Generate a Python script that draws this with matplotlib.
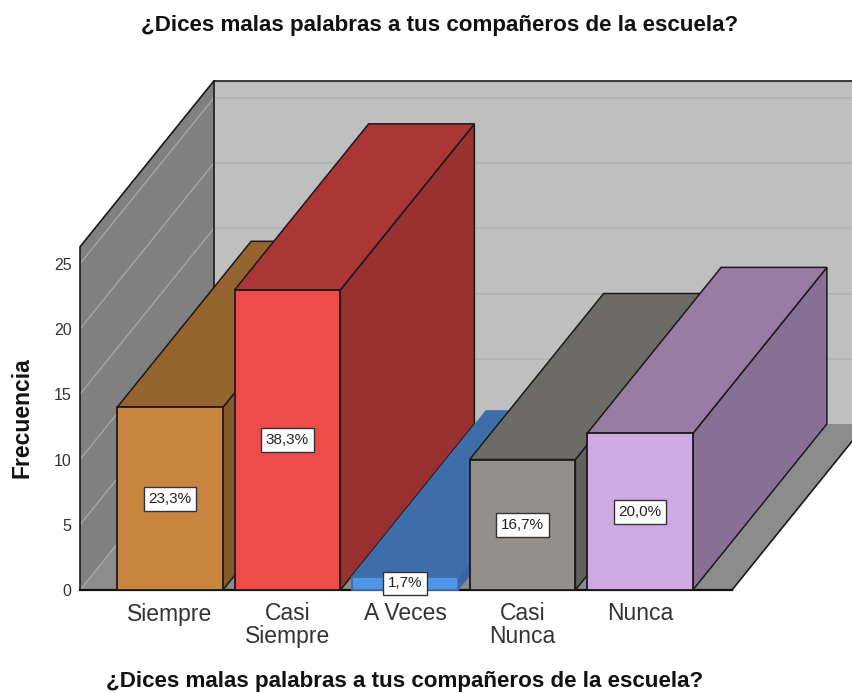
import matplotlib
matplotlib.use("Agg")
import matplotlib.pyplot as plt
from matplotlib.patches import Polygon

plt.rcParams['font.family'] = ['Liberation Sans', 'DejaVu Sans']

# data
categories = ["Siempre", "Casi\nSiempre", "A Veces", "Casi\nNunca", "Nunca"]
counts = [14, 23, 1, 10, 12]
percent_labels = ["23,3%", "38,3%", "1,7%", "16,7%", "20,0%"]
y_ticks = [0, 5, 10, 15, 20, 25]

# colours of each bar: front, top, side, outline
front_colors = ["#c9853f", "#ee4b4b", "#5196e6", "#938f8c", "#cfa9e4"]
top_colors = ["#96642f", "#aa3636", "#3d6ea9", "#6d6b68", "#997ca4"]
side_colors = ["#845a2c", "#993131", "#3b659e", "#63605d", "#886f96"]
edge_colors = ["#1a1a1a", "#1a1a1a", "#3f6faa", "#1a1a1a", "#1a1a1a"]

title = "¿Dices malas palabras a tus compañeros de la escuela?"

W, H = 853, 693
fig = plt.figure(figsize=(W / 100, H / 100), dpi=100)

# axes runs from the front left floor corner to the top right of the image
ax = fig.add_axes([80 / W, (H - 590) / H, (W - 80) / W, 590 / H])
ax.set_xlim((80 - 170) / 117.5, (W - 170) / 117.5)
ax.set_ylim(0, 590 / 13.05)

# fake 3d depth in data units
dx = 134 / 117.5
dy = 166 / 13.05
bar_w = 0.45
left = (80 - 170) / 117.5
right = (732 - 170) / 117.5
wall_top = 26.3
far_right = right + dx


def poly(pts, color, edge="none", lw=0, z=1):
    ax.add_patch(Polygon(pts, closed=True, facecolor=color, edgecolor=edge,
                         linewidth=lw, zorder=z, clip_on=False, joinstyle="miter"))


# back wall, floor and left wall
poly([(left + dx, dy), (far_right, dy), (far_right, dy + wall_top), (left + dx, dy + wall_top)], "#bfbfbf")
poly([(left, 0), (right, 0), (far_right, dy), (left + dx, dy)], "#8c8c8c")
poly([(left, 0), (left + dx, dy), (left + dx, dy + wall_top), (left, wall_top)], "#808080")

# gridlines on both walls
for t in y_ticks:
    if t > 0:
        ax.plot([left + dx, far_right], [dy + t, dy + t], color="#b3b3b3", lw=1.3, zorder=1.1, clip_on=False)
    ax.plot([left, left + dx], [t, dy + t], color="#a6a6a6", lw=1.0, zorder=1.1, clip_on=False)

# frame lines
ax.plot([left + dx, far_right], [dy + wall_top, dy + wall_top], color="#1a1a1a", lw=1.2, zorder=1.2, clip_on=False)
ax.plot([left, left, left + dx, left + dx], [0, wall_top, dy + wall_top, dy], color="#1a1a1a", lw=1.2, zorder=1.2, clip_on=False)
ax.plot([right, far_right], [0, dy], color="#1a1a1a", lw=1.2, zorder=1.2, clip_on=False)
ax.plot([left, right], [0, 0], color="#111111", lw=1.6, zorder=1.2, clip_on=False)

# bars, painted left to right so the nearer ones cover the earlier ones
for i, v in enumerate(counts):
    x0, x1 = i - bar_w, i + bar_w
    z = 2 + i
    poly([(x1, 0), (x1 + dx, dy), (x1 + dx, dy + v), (x1, v)], side_colors[i], edge_colors[i], 1.1, z)
    poly([(x0, v), (x1, v), (x1 + dx, v + dy), (x0 + dx, v + dy)], top_colors[i], edge_colors[i], 1.1, z)
    poly([(x0, 0), (x1, 0), (x1, v), (x0, v)], front_colors[i], edge_colors[i], 1.3, z)
    ax.text(i, v / 2, percent_labels[i], ha="center", va="center", fontsize=11, color="#222222", zorder=20,
            bbox=dict(boxstyle="square,pad=0.32", facecolor="white", edgecolor="#333333", linewidth=1.0))

for s in ax.spines.values():
    s.set_visible(False)
ax.patch.set_visible(False)

ax.set_yticks(y_ticks)
ax.tick_params(axis="y", length=0, pad=6, labelsize=11.5, labelcolor="#333333")
ax.set_xticks(range(len(categories)))
ax.set_xticklabels(categories, linespacing=0.95)
ax.tick_params(axis="x", length=0, pad=9, labelsize=16.5, labelcolor="#333333")

fig.text(22 / W, 1 - 418 / H, "Frecuencia", rotation=90, ha="center", va="center", fontsize=16.5, fontweight="bold", color="#111111")
fig.text(440 / W, 1 - 25 / H, title, ha="center", va="center", fontsize=16.1, fontweight="bold", color="#111111")
fig.text(405 / W, 1 - 681 / H, title, ha="center", va="center", fontsize=16.1, fontweight="bold", color="#111111")

fig.savefig("out.png", dpi=100)
